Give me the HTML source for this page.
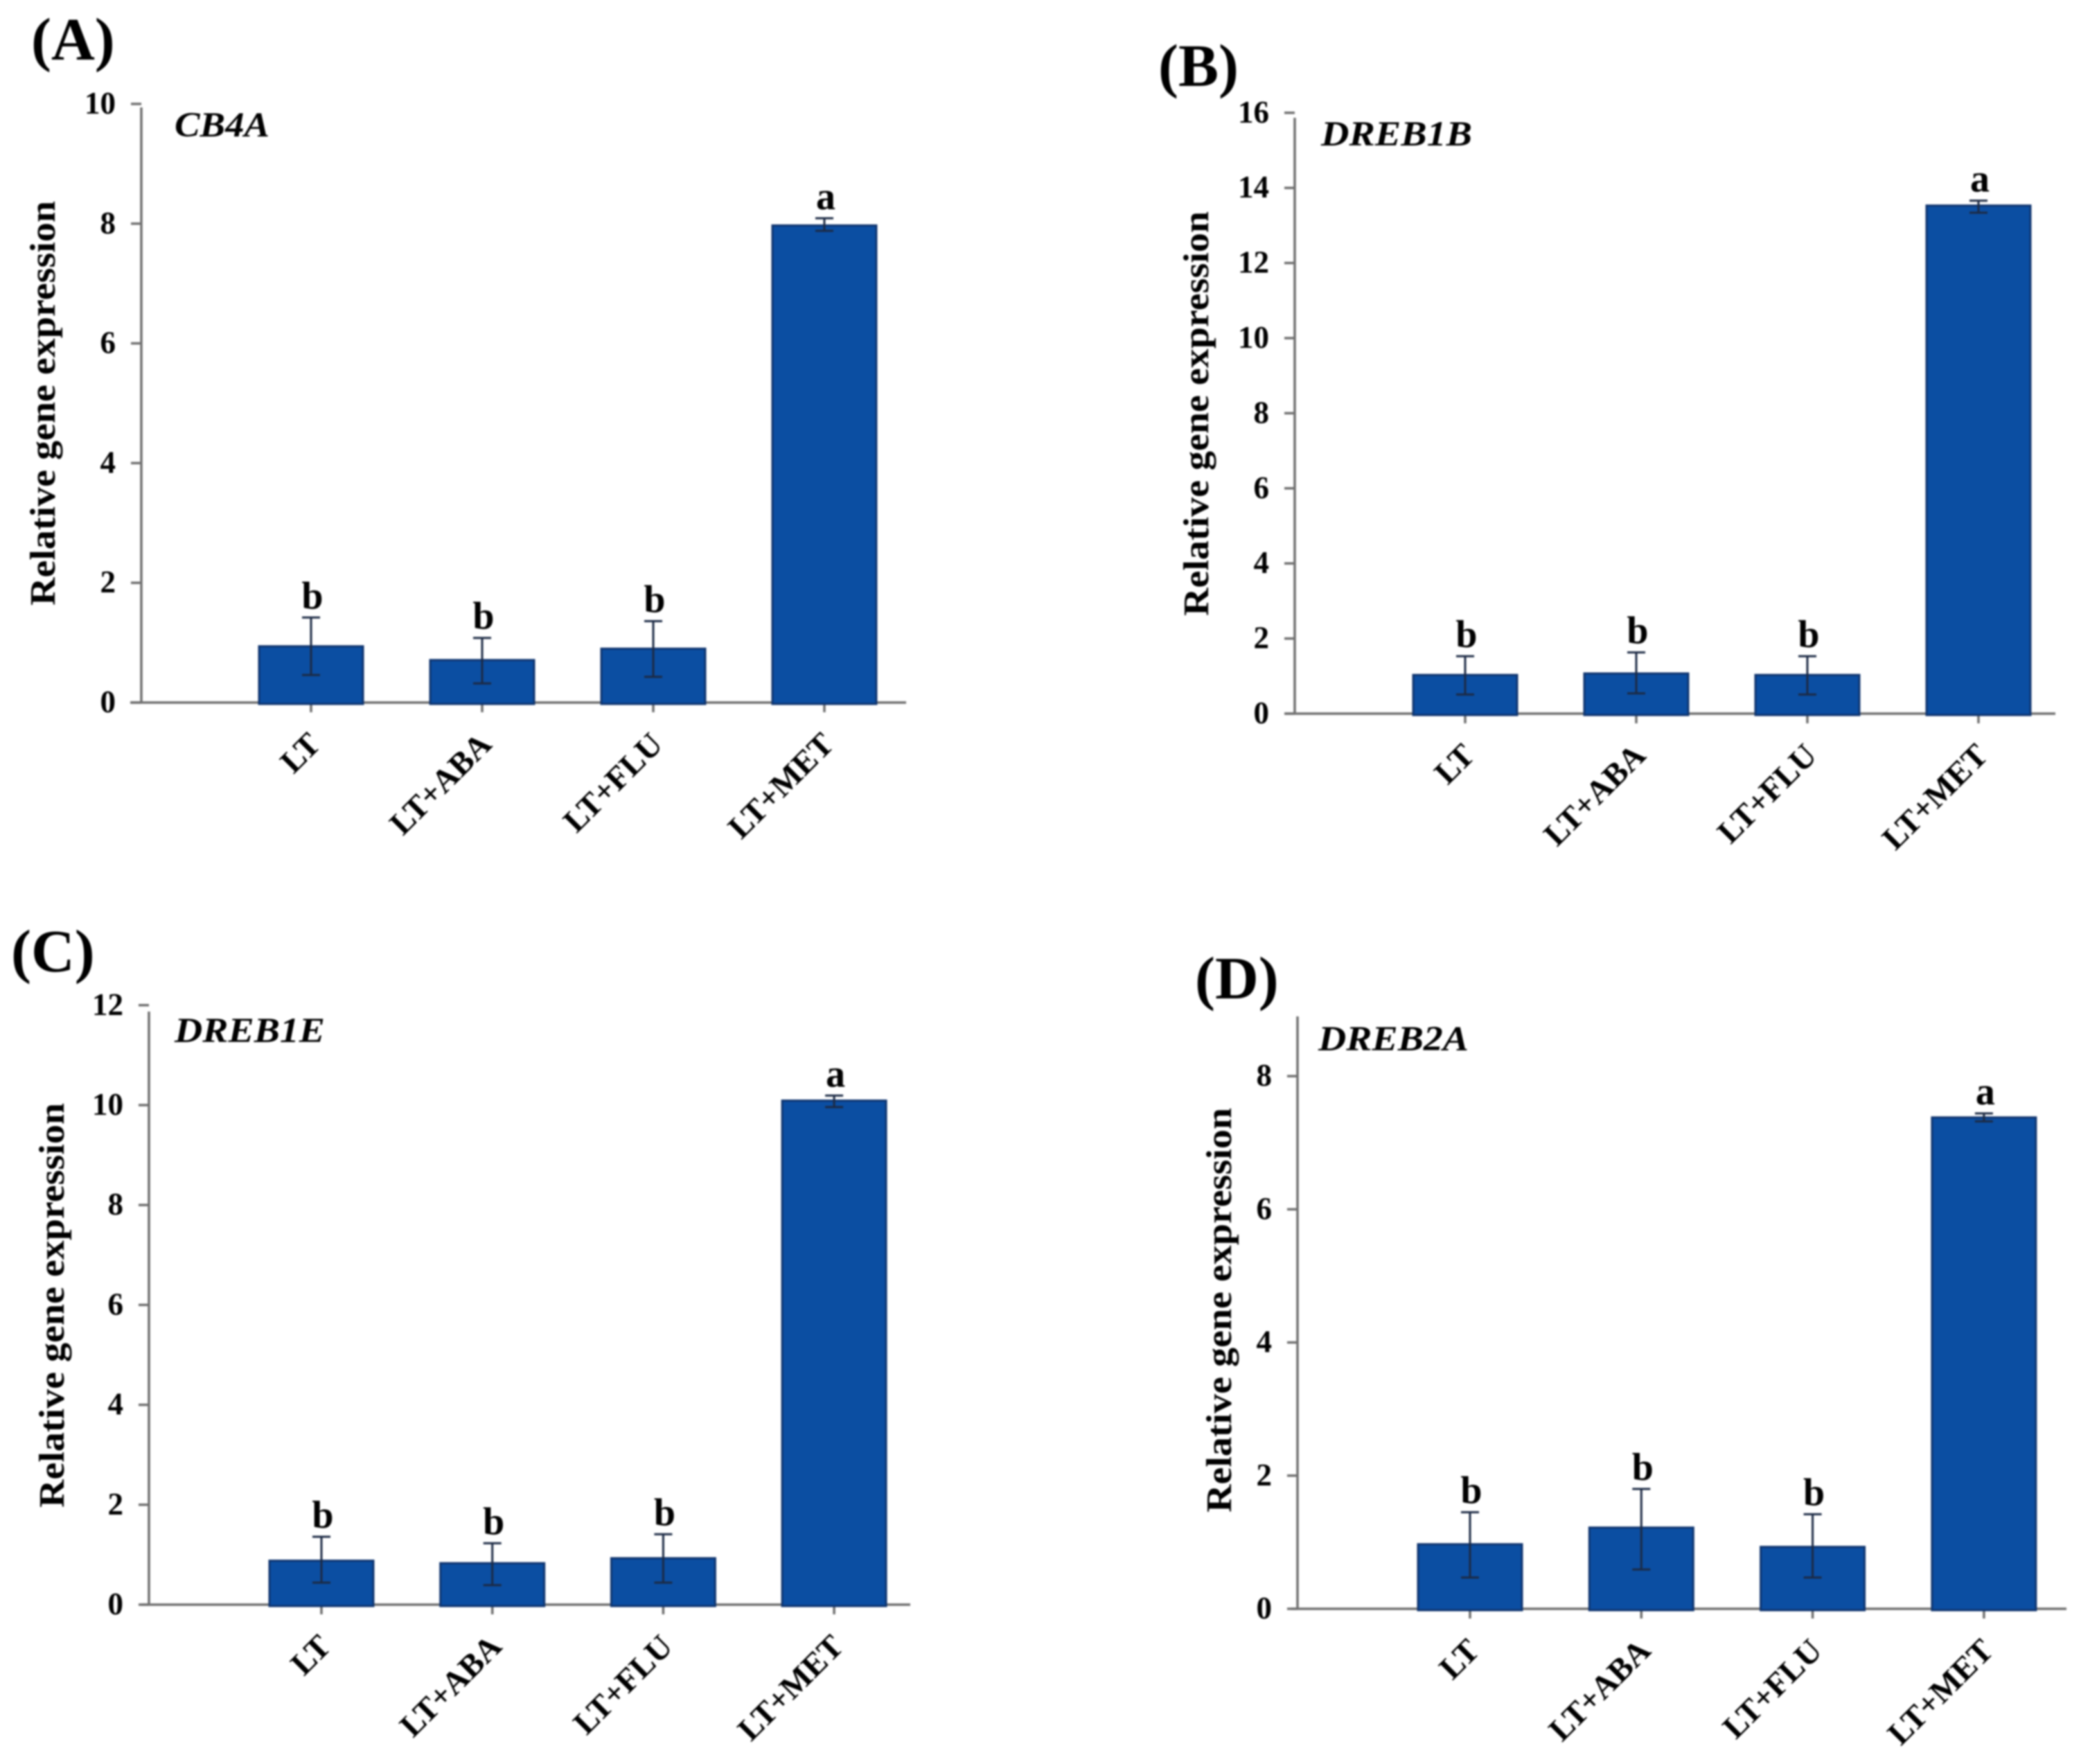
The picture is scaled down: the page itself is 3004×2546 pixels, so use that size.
<!DOCTYPE html>
<html lang="en">
<head>
<meta charset="utf-8">
<title>Relative gene expression panels</title>
<style>
html,body{margin:0;padding:0;background:#fff;width:3004px;height:2546px;overflow:hidden}
svg{display:block;filter:blur(1.2px)}
text{font-family:"Liberation Serif",serif;font-weight:bold;fill:#000}
.panel-label{font-size:87px}
.gene{font-size:51px;font-style:italic}
.ytitle{font-size:52px}
</style>
</head>
<body>
<svg id="figure" xmlns="http://www.w3.org/2000/svg" width="3004" height="2546" viewBox="0 0 3004 2546">
  <rect x="0" y="0" width="3004" height="2546" fill="#ffffff"/>

  <text class="panel-label" x="45" y="86">(A)</text>
  <text class="panel-label" x="1672" y="124">(B)</text>
  <text class="panel-label" x="16" y="1402">(C)</text>
  <text class="panel-label" x="1725" y="1441">(D)</text>

  <text class="gene" x="252" y="197" textLength="137" lengthAdjust="spacingAndGlyphs">CB4A</text>
  <text class="gene" x="1907" y="210" textLength="218" lengthAdjust="spacingAndGlyphs">DREB1B</text>
  <text class="gene" x="252" y="1504" textLength="217" lengthAdjust="spacingAndGlyphs">DREB1E</text>
  <text class="gene" x="1903" y="1516" textLength="217" lengthAdjust="spacingAndGlyphs">DREB2A</text>

  <text class="ytitle" text-anchor="middle" transform="translate(79 582) rotate(-90)" textLength="584" lengthAdjust="spacingAndGlyphs">Relative gene expression</text>
  <text class="ytitle" text-anchor="middle" transform="translate(1744 597) rotate(-90)" textLength="584" lengthAdjust="spacingAndGlyphs">Relative gene expression</text>
  <text class="ytitle" text-anchor="middle" transform="translate(92 1884) rotate(-90)" textLength="584" lengthAdjust="spacingAndGlyphs">Relative gene expression</text>
  <text class="ytitle" text-anchor="middle" transform="translate(1777 1891) rotate(-90)" textLength="584" lengthAdjust="spacingAndGlyphs">Relative gene expression</text>
</svg>
<script>
// ---- data ----
const categories = ['LT', 'LT+ABA', 'LT+FLU', 'LT+MET'];
const letters = ['b', 'b', 'b', 'a'];

const cb4aTicks = ['0', '2', '4', '6', '8', '10'];
const cb4aValues = [0.94, 0.71, 0.90, 7.97];
const cb4aUpper = [1.42, 1.08, 1.36, 8.09];
const cb4aLower = [0.46, 0.32, 0.43, 7.88];

const dreb1bTicks = ['0', '2', '4', '6', '8', '10', '12', '14', '16'];
const dreb1bValues = [1.03, 1.07, 1.03, 13.53];
const dreb1bUpper = [1.53, 1.63, 1.53, 13.66];
const dreb1bLower = [0.51, 0.54, 0.51, 13.34];

const dreb1eTicks = ['0', '2', '4', '6', '8', '10', '12'];
const dreb1eValues = [0.88, 0.83, 0.93, 10.09];
const dreb1eUpper = [1.36, 1.23, 1.41, 10.19];
const dreb1eLower = [0.44, 0.39, 0.44, 9.96];

const dreb2aTicks = ['0', '2', '4', '6', '8'];
const dreb2aValues = [0.97, 1.22, 0.93, 7.38];
const dreb2aUpper = [1.45, 1.80, 1.42, 7.44];
const dreb2aLower = [0.47, 0.59, 0.47, 7.32];

// ---- panel geometry (layout only) ----
const layoutA = {id: 'a', axisX: 204, baseY: 1014, unit: 86.4, topY: 155, left: 188, right: 1308, first: 449, step: 247};
const layoutB = {id: 'b', axisX: 1869, baseY: 1030, unit: 54.2, topY: 170, left: 1855, right: 2967, first: 2115, step: 247};
const layoutC = {id: 'c', axisX: 215, baseY: 2316, unit: 72.1, topY: 1460, left: 204, right: 1314, first: 464, step: 246.7};
const layoutD = {id: 'd', axisX: 1873, baseY: 2322, unit: 96.1, topY: 1467, left: 1864, right: 2983, first: 2122, step: 247.3};

const NS = 'http://www.w3.org/2000/svg';
const svg = document.getElementById('figure');
const AXIS = '#6f6f6f';
const BAR_FILL = '#0b4ea2';
const BAR_EDGE = '#10356f';
const ERR = '#1c2a44';
const BAR_W = 150;

function make(tag, attrs, parent) {
  const el = document.createElementNS(NS, tag);
  for (const k in attrs) el.setAttribute(k, attrs[k]);
  parent.appendChild(el);
  return el;
}

function drawPanel(layout, ticks, values, upper, lower) {
  const yScale = v => layout.baseY - v * layout.unit;
  const xScale = i => layout.first + i * layout.step;

  const g = make('g', {}, svg);
  
  

  const yAxis = make('line', {x1: layout.axisX, x2: layout.axisX, y1: layout.topY, y2: layout.baseY, stroke: AXIS, 'stroke-width': 3.5}, g);
  
  

  const xAxis = make('line', {x1: layout.left, x2: layout.right, y1: layout.baseY, y2: layout.baseY, stroke: AXIS, 'stroke-width': 3.5}, g);
  
  

  ticks.forEach(label => {
    const v = Number(label);
    const y = yScale(v);
    const tick = make('line', {x1: layout.axisX - 15, x2: layout.axisX, y1: y, y2: y, stroke: AXIS, 'stroke-width': 3.5}, g);
    
    
    const t = make('text', {x: layout.axisX - 37, y: y + 14, 'text-anchor': 'end', 'font-size': 45}, g);
    t.textContent = label;
    
    
  });

  categories.forEach((cat, i) => {
    const cx = xScale(i);
    const barTop = yScale(values[i]);

    const tick = make('line', {x1: cx, x2: cx, y1: layout.baseY, y2: layout.baseY + 14, stroke: AXIS, 'stroke-width': 3.5}, g);
    
    

    const bar = make('rect', {x: cx - BAR_W / 2, y: barTop, width: BAR_W, height: layout.baseY - barTop + 2, fill: BAR_FILL, stroke: BAR_EDGE, 'stroke-width': 3}, g);
    
    

    const stem = make('line', {x1: cx, x2: cx, y1: yScale(upper[i]), y2: yScale(lower[i]), stroke: ERR, 'stroke-width': 3}, g);
    
    
    [upper[i], lower[i]].forEach(val => {
      const cap = make('line', {x1: cx - 13, x2: cx + 13, y1: yScale(val), y2: yScale(val), stroke: ERR, 'stroke-width': 3}, g);
      
      
    });

    const sig = make('text', {x: cx + 2, y: yScale(upper[i]) - 13, 'text-anchor': 'middle', 'font-size': 56}, g);
    sig.textContent = letters[i];
    
    

    const ax = cx + 16;
    const ay = layout.baseY + 63;
    const t = make('text', {x: ax, y: ay, 'text-anchor': 'end', 'font-size': 47, transform: 'rotate(-45 ' + ax + ' ' + ay + ')'}, g);
    t.textContent = cat;
    
    
  });
}

drawPanel(layoutA, cb4aTicks, cb4aValues, cb4aUpper, cb4aLower);
drawPanel(layoutB, dreb1bTicks, dreb1bValues, dreb1bUpper, dreb1bLower);
drawPanel(layoutC, dreb1eTicks, dreb1eValues, dreb1eUpper, dreb1eLower);
drawPanel(layoutD, dreb2aTicks, dreb2aValues, dreb2aUpper, dreb2aLower);
</script>
</body>
</html>
